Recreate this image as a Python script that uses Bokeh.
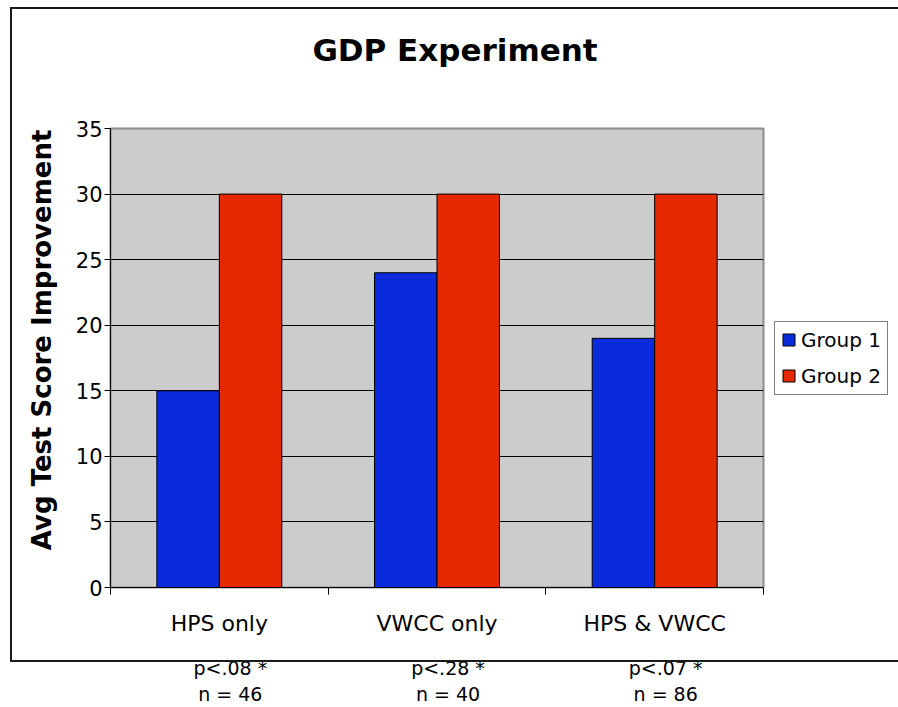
from bokeh.plotting import figure
from bokeh.models import (Range1d, FixedTicker, Legend, LegendItem, LinearAxis,
                          InlineStyleSheet)
from bokeh.embed import file_html
from bokeh.resources import INLINE

# ---- data ----
categories = ["HPS only", "VWCC only", "HPS & VWCC"]
group1 = [15, 24, 19]
group2 = [30, 30, 30]
series_names = ["Group 1", "Group 2"]
p_values = ["p<.08 *", "p<.28 *", "p<.07 *"]
n_values = ["n = 46", "n = 40", "n = 86"]
y_ticks = [0, 5, 10, 15, 20, 25, 30, 35]
title_text = "GDP Experiment"
y_label = "Avg Test Score Improvement"

FONT = "DejaVu Sans"
BLUE = "#0A2ADC"
RED = "#E52800"
FRAME_W, FRAME_H = 653, 459

border_css = InlineStyleSheet(css="""
:host { position: relative; }
:host::after {
  content: ""; position: absolute; left: 10px; top: 7px; width: 888px; height: 655px;
  border-top: 2px solid #1a1a1a; border-left: 2px solid #1a1a1a; border-bottom: 2px solid #1a1a1a;
  box-sizing: border-box; pointer-events: none; z-index: 10;
}
""")

p = figure(width=None, height=None, frame_width=FRAME_W, frame_height=FRAME_H,
           output_backend="svg", toolbar_location=None,
           x_range=Range1d(0, len(categories)), y_range=Range1d(y_ticks[0], y_ticks[-1]),
           min_border_left=110, min_border_right=135, min_border_top=128, min_border_bottom=120,
           background_fill_color="#CCCCCC", border_fill_color="white",
           stylesheets=[border_css])
p.outline_line_color = "#8C8C8C"
p.outline_line_width = 2
p.title.text = ""

centers = [i + 0.5 for i in range(len(categories))]
bw = 0.287
x1 = [c - bw / 2 for c in centers]
x2 = [c + bw / 2 for c in centers]
r1 = p.vbar(x=x1, top=group1, width=bw, fill_color=BLUE, line_color="black", line_width=1)
r2 = p.vbar(x=x2, top=group2, width=bw, fill_color=RED, line_color="black", line_width=1)

# x axis (categories)
xa = p.xaxis[0]
xa.ticker = FixedTicker(ticks=centers, minor_ticks=list(range(len(categories) + 1)))
xa.major_label_overrides = {c: cat for c, cat in zip(centers, categories)}
xa.major_tick_line_color = None
xa.major_tick_out = 0
xa.major_tick_in = 0
xa.minor_tick_line_color = "black"
xa.minor_tick_out = 7
xa.minor_tick_in = 0
xa.axis_line_color = "black"
xa.major_label_text_font = FONT
xa.major_label_text_font_size = "22px"
xa.major_label_text_color = "black"
xa.major_label_standoff = 16


def text_axis(labels, ticks, size, standoff, range_name="default", bold=False):
    ax = LinearAxis(x_range_name=range_name, ticker=FixedTicker(ticks=ticks))
    ax.major_label_overrides = {c: t for c, t in zip(ticks, labels)}
    ax.axis_line_color = None
    ax.major_tick_line_color = None
    ax.minor_tick_line_color = None
    ax.major_tick_out = 0
    ax.major_tick_in = 0
    ax.minor_tick_out = 0
    ax.minor_tick_in = 0
    ax.major_label_text_font = FONT
    ax.major_label_text_font_size = size
    ax.major_label_text_font_style = "bold" if bold else "normal"
    ax.major_label_text_color = "black"
    ax.major_label_standoff = standoff
    return ax


# title, centred slightly right of the plot centre as in the reference
title_pos = 0.5 * len(categories) + 18 * len(categories) / FRAME_W
p.add_layout(text_axis([title_text], [title_pos], "31px", 61, bold=True), "above")

# p-values and n rows below (slightly shifted right, as in the reference)
shift = 11 * len(categories) / FRAME_W
p.extra_x_ranges = {"shift": Range1d(-shift, len(categories) - shift)}
p.add_layout(text_axis(p_values, centers, "19px", 18, "shift"), "below")
p.add_layout(text_axis(n_values, centers, "19px", 1, "shift"), "below")

# y axis
ya = p.yaxis[0]
ya.ticker = FixedTicker(ticks=y_ticks)
ya.major_tick_out = 6
ya.major_tick_in = 0
ya.major_tick_line_color = "black"
ya.minor_tick_line_color = None
ya.axis_line_color = "black"
ya.major_label_text_font = FONT
ya.major_label_text_font_size = "21px"
ya.major_label_text_color = "black"
ya.major_label_standoff = 2
ya.axis_label = "\u00a0" * 4 + y_label
ya.axis_label_text_font = FONT
ya.axis_label_text_font_style = "bold"
ya.axis_label_text_font_size = "26px"
ya.axis_label_text_color = "black"
ya.axis_label_standoff = 16

p.xgrid.visible = False
p.ygrid.ticker = FixedTicker(ticks=y_ticks[1:-1])
p.ygrid.grid_line_color = "black"
p.ygrid.grid_line_width = 1

legend = Legend(items=[LegendItem(label=series_names[0], renderers=[r1]),
                       LegendItem(label=series_names[1], renderers=[r2])],
                location="left", border_line_color="black", border_line_width=1,
                background_fill_color="white", background_fill_alpha=1,
                label_text_font=FONT, label_text_font_size="20px", label_text_color="black",
                glyph_width=15, glyph_height=15, padding=6, spacing=12, margin=11,
                label_standoff=5)
p.add_layout(legend, "right")

open("out.html", "w").write(file_html(p, INLINE))
